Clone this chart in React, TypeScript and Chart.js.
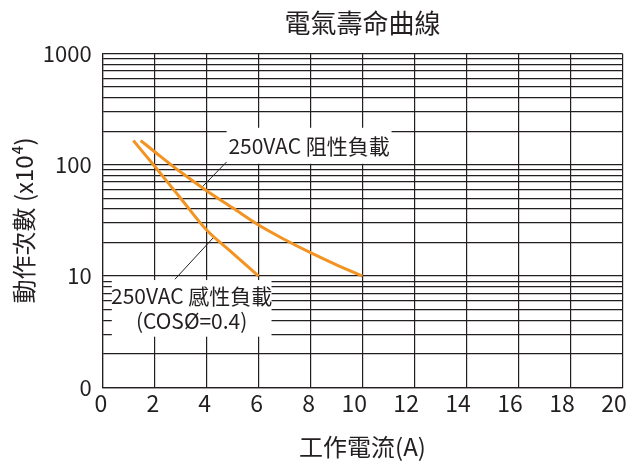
import React, { useEffect, useRef } from 'react';
import { Chart, registerables } from 'chart.js';

Chart.register(...registerables);

const TITLE = '電氣壽命曲線';
const X_TITLE = '工作電流(A)';
const Y_TITLE = '動作次數 (x10⁴)';

// 250VAC resistive load
const resistiveX = [1.46, 2, 3, 4, 5, 6, 7, 8, 9, 10];
const resistiveY = [165, 131, 86, 58.5, 41, 28.7, 21.3, 16.2, 12.6, 10];
// 250VAC inductive load (cos = 0.4)
const inductiveX = [1.18, 2, 3, 4, 5, 6];
const inductiveY = [165, 97, 50, 25.9, 16.1, 10];

const xTickValues = [0, 2, 4, 6, 8, 10, 12, 14, 16, 18, 20];
const yTickValues = [
  1, 2, 3, 4, 5, 6, 7, 8, 9,
  10, 20, 30, 40, 50, 60, 70, 80, 90,
  100, 200, 300, 400, 500, 600, 700, 800, 900,
  1000,
];
const yTickLabels: Record<string, string> = { '1': '0', '10': '10', '100': '100', '1000': '1000' };

const resistiveLabel = ['250VAC 阻性負載'];
const inductiveLabel = ['250VAC 感性負載', '(COSØ=0.4)'];

const TEXT = '#231f20';
const GRID = '#231f20';
const ORANGE = '#F39322';
const FONT = '"Noto Sans CJK TC", "Noto Sans", sans-serif';

// annotation placement in data space
const annotations = [
  {
    lines: resistiveLabel,
    box: { x1: 4.77, x2: 11.12, y1: 102, y2: 215 },
    leader: [[4.77, 106], [3.81, 62.5]],
  },
  {
    lines: inductiveLabel,
    box: { x1: 0.35, x2: 6.5, y1: 2.85, y2: 9.2 },
    leader: [[2.78, 9.35], [4.25, 22]],
  },
];

const annotationPlugin = {
  id: 'annot',
  beforeDatasetsDraw(chart: any) {
    const { ctx, scales } = chart;
    const xs = scales.x;
    const ys = scales.y;
    ctx.save();
    for (const a of annotations) {
      const left = xs.getPixelForValue(a.box.x1);
      const right = xs.getPixelForValue(a.box.x2);
      const top = ys.getPixelForValue(a.box.y2);
      const bottom = ys.getPixelForValue(a.box.y1);
      ctx.fillStyle = '#ffffff';
      ctx.fillRect(left, top, right - left, bottom - top);
      // leader
      ctx.beginPath();
      ctx.strokeStyle = TEXT;
      ctx.lineWidth = 1;
      ctx.moveTo(xs.getPixelForValue(a.leader[0][0]), ys.getPixelForValue(a.leader[0][1]));
      ctx.lineTo(xs.getPixelForValue(a.leader[1][0]), ys.getPixelForValue(a.leader[1][1]));
      ctx.stroke();
      // text
      ctx.fillStyle = TEXT;
      ctx.font = `21px ${FONT}`;
      ctx.textAlign = 'center';
      ctx.textBaseline = 'middle';
      const cx = (left + right) / 2;
      const cy = (top + bottom) / 2;
      const lh = 25;
      const n = a.lines.length;
      a.lines.forEach((t, i) => {
        ctx.fillText(t, cx, cy + (i - (n - 1) / 2) * lh);
      });
    }
    ctx.restore();
  },
  afterDraw(chart: any) {
    const { ctx, chartArea } = chart;
    ctx.save();
    ctx.fillStyle = TEXT;
    ctx.font = `26px ${FONT}`;
    ctx.textAlign = 'center';
    ctx.textBaseline = 'middle';
    ctx.fillText(TITLE, (chartArea.left + chartArea.right) / 2, 23.5);
    ctx.restore();
  },
};

export default function App() {
  const ref = useRef<HTMLCanvasElement>(null);
  useEffect(() => {
    document.body.style.margin = '0';
    Chart.defaults.font.family = FONT;
    Chart.defaults.color = TEXT;
    const chart = new Chart(ref.current as HTMLCanvasElement, {
      type: 'line',
      data: {
        datasets: [
          {
            label: '250VAC 阻性負載',
            data: resistiveX.map((x, i) => ({ x, y: resistiveY[i] })),
            borderColor: ORANGE,
            borderWidth: 3,
            pointRadius: 0,
            cubicInterpolationMode: 'monotone',
            fill: false,
          },
          {
            label: '250VAC 感性負載',
            data: inductiveX.map((x, i) => ({ x, y: inductiveY[i] })),
            borderColor: ORANGE,
            borderWidth: 3,
            pointRadius: 0,
            cubicInterpolationMode: 'monotone',
            fill: false,
          },
        ],
      },
      options: {
        animation: false,
        responsive: true,
        maintainAspectRatio: false,
        layout: { padding: { top: 53.5, right: 9.8, left: 0, bottom: 0 } },
        plugins: {
          legend: { display: false },
          tooltip: { enabled: false },
          title: { display: false },
        },
        scales: {
          x: {
            type: 'linear',
            min: 0,
            max: 20,
            afterBuildTicks: (s: any) => {
              s.ticks = xTickValues.map((v) => ({ value: v }));
            },
            afterFit: (s: any) => {
              s.height = 75.7;
              s.paddingLeft = 0;
              s.paddingRight = 0;
            },
            ticks: {
              autoSkip: false,
              maxRotation: 0,
              padding: 2,
              align: 'end',
              labelOffset: 4.5,
              color: TEXT,
              font: { size: 23 },
            },
            grid: { color: GRID, lineWidth: 1.2, drawTicks: false },
            border: { color: GRID, width: 1.2 },
            title: {
              display: true,
              text: X_TITLE,
              color: TEXT,
              font: { size: 24 },
              padding: { top: 0, bottom: 2 },
            },
          },
          y: {
            type: 'logarithmic',
            min: 1,
            max: 1000,
            afterBuildTicks: (s: any) => {
              s.ticks = yTickValues.map((v) => ({ value: v }));
            },
            afterFit: (s: any) => {
              s.width = 102.7;
              s.paddingTop = 0;
              s.paddingBottom = 0;
            },
            ticks: {
              autoSkip: false,
              padding: 11,
              color: TEXT,
              font: { size: 22 },
              callback: (v: any) => yTickLabels[String(v)] ?? '',
            },
            grid: { color: GRID, lineWidth: 1.2, drawTicks: false },
            border: { color: GRID, width: 1.2 },
            title: {
              display: true,
              text: Y_TITLE,
              color: TEXT,
              font: { size: 24 },
              padding: { top: 9, bottom: 0 },
            },
          },
        },
      },
      plugins: [annotationPlugin],
    } as any);
    return () => chart.destroy();
  }, []);
  return (
    <div style={{ position: 'relative', width: 632, height: 463 }}>
      <canvas ref={ref} />
    </div>
  );
}
